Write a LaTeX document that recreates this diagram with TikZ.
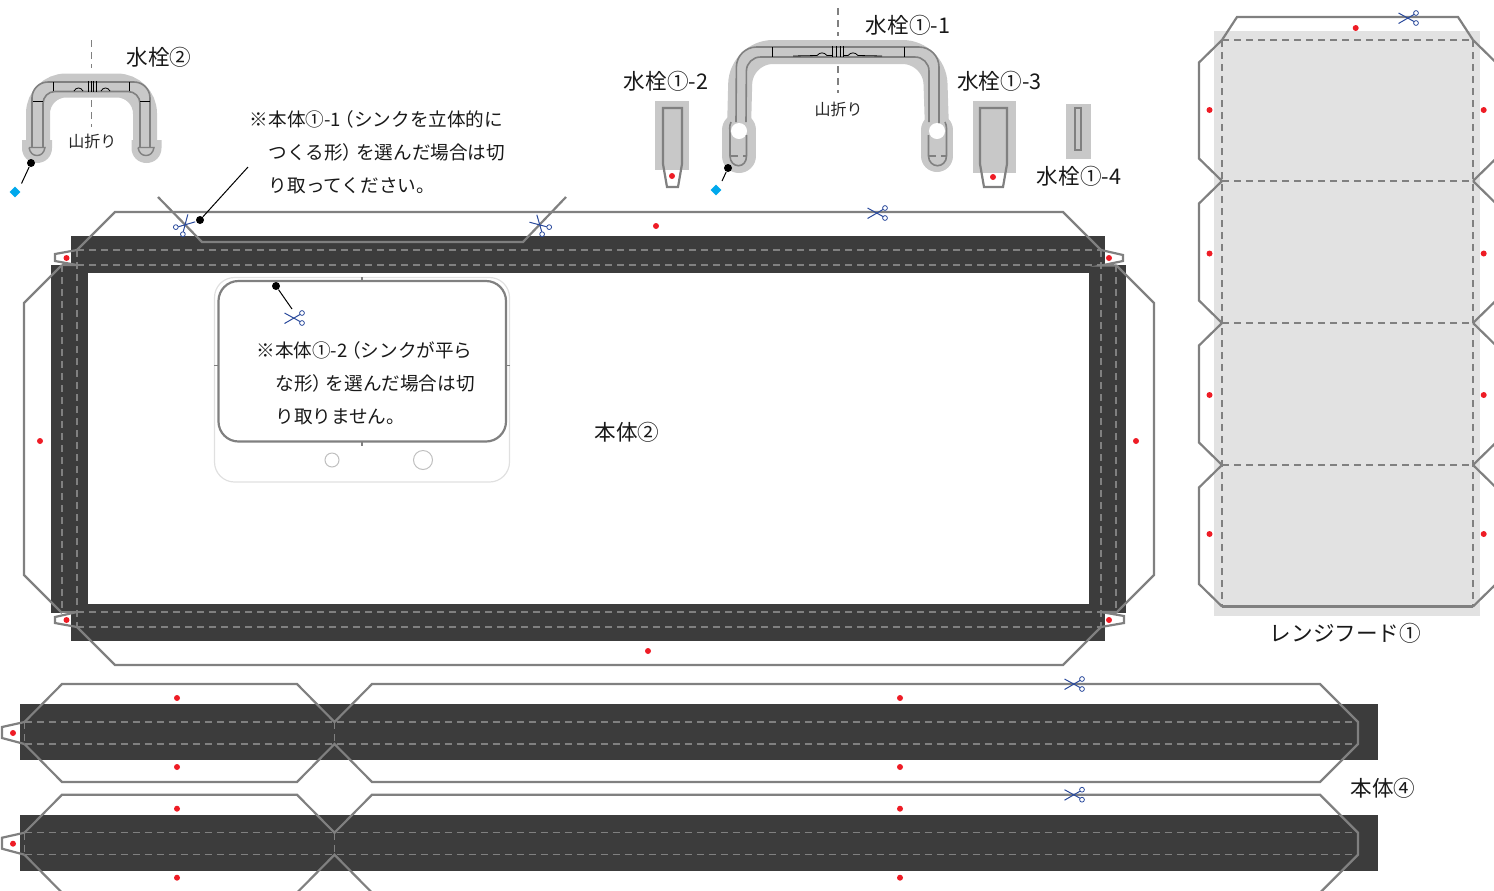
\documentclass[tikz,border=0pt]{standalone}
\usepackage{fontspec}
\setmainfont{Noto Sans CJK JP}
\newfontfamily\HaltFont{Noto Sans CJK JP}[RawFeature={+halt}]
\newcommand{\OpenMark}{\hspace{2pt}{\HaltFont （}}
\newcommand{\CloseMark}{{\HaltFont ）}\hspace{2pt}}
\usetikzlibrary{shapes.geometric}
\definecolor{BandDark}{HTML}{3C3C3C}
\definecolor{CutGray}{HTML}{808080}
\definecolor{FoldGray}{HTML}{808080}
\definecolor{HaloGray}{HTML}{C8C8C8}
\definecolor{PanelGray}{HTML}{E2E2E2}
\definecolor{MarkRed}{HTML}{EE1C25}
\definecolor{MarkCyan}{HTML}{00A8EC}
\definecolor{ScissorBlue}{HTML}{2A4A9C}
\tikzset{
    Band/.style={fill=BandDark, draw=none},
    Panel/.style={fill=HaloGray, draw=none},
    CutLine/.style={draw=CutGray, line width=1.1pt, line join=miter},
    FoldLine/.style={draw=FoldGray, line width=0.55pt, dash pattern=on 3.5pt off 2.5pt},
    FineLine/.style={draw=black, line width=0.4pt},
    Halo/.style={draw=HaloGray, line width=12pt},
    Leader/.style={draw=black, line width=0.5pt},
    PinDot/.style={circle, fill=black, inner sep=0pt, minimum size=4pt},
    PinMark/.style={diamond, fill=MarkCyan, inner sep=0pt, minimum size=5.5pt},
    PartLabel/.style={font={\fontsize{10.8pt}{12pt}\selectfont}, inner sep=0pt, text=black!90},
    FoldLabel/.style={font={\fontsize{8pt}{10pt}\selectfont}, inner sep=0pt, text=black!85},
    NoteText/.style={font={\fontsize{9.3pt}{16.5pt}\selectfont}, inner sep=0pt, align=left, anchor=north west, text=black!90},
    scissors/.pic={
        \draw[ScissorBlue, line width=0.5pt] (-9.5,-5) -- (6,3.5) (-9.5,5.5) -- (6,-3.5);
        \draw[ScissorBlue, line width=0.4pt] (8,-5) circle (2.4) (8,5) circle (2.4);
    }
}
\begin{document}
\begin{tikzpicture}[x=0.5pt, y=-0.5pt]
\clip (0,0) rectangle (1494,890);

\fill[PanelGray] (1214,31) rectangle (1480,616);
\draw[CutLine] (1222,40) -- (1237,17) -- (1458,17) -- (1473,40);
\foreach \Top/\Bottom in {40/181, 181/323, 323/465, 465/606.5} {
    \draw[CutLine] (1222,\Top) -- (1199,\Top+22.5) -- (1199,\Bottom-22.5) -- (1222,\Bottom);
    \draw[CutLine] (1473,\Top) -- (1496,\Top+22.5) -- (1496,\Bottom-22.5) -- (1473,\Bottom);
}
\draw[CutLine] (1222,606.5) -- (1473,606.5);
\draw[FoldLine] (1222,40) -- (1222,606) (1473,40) -- (1473,606);
\foreach \Level in {40,181,323,465} {
    \draw[FoldLine] (1222,\Level) -- (1473,\Level);
}

\fill[Band] (71,236) rectangle (1105,273);
\fill[Band] (71,604) rectangle (1105,641);
\fill[Band] (51,265) rectangle (88,613);
\fill[Band] (1089,265) rectangle (1126,613);
\draw[FoldLine] (77,250) -- (1101,250) (77,265) -- (1101,265);
\draw[FoldLine] (77,612) -- (1101,612) (77,627) -- (1101,627);
\draw[FoldLine] (62,265) -- (62,612) (77,250) -- (77,627);
\draw[FoldLine] (1101,250) -- (1101,627) (1116,265) -- (1116,612);
\draw[CutLine] (77,250) -- (115,212) -- (1063,212) -- (1101,250);
\draw[CutLine] (158,197) -- (202,242) -- (523,242) -- (566,197);
\draw[CutLine] (62,265) -- (24,303) -- (24,575) -- (62,613);
\draw[CutLine] (1116,265) -- (1154,303) -- (1154,575) -- (1116,613);
\draw[CutLine] (77,627) -- (115,665) -- (1063,665) -- (1101,627);
\draw[CutLine] (77,250) -- (55,254) -- (55,261) -- (77,265) -- (62,265);
\draw[CutLine] (77,612) -- (55,617) -- (55,623) -- (77,627);
\draw[CutLine] (62,612) -- (77,612);
\draw[CutLine] (1101,250) -- (1123,255) -- (1123,261) -- (1101,265.5) -- (1116,265.5);
\draw[CutLine] (1116,612) -- (1101,612) -- (1124,616) -- (1124,623) -- (1101,627);

\foreach \Shift in {0,110.7} {
\begin{scope}[shift={(0,\Shift)}]
\fill[Band] (20,704) rectangle (1378,760);
\draw[FoldLine] (24.5,722) -- (1358,722) (24.5,744) -- (1358,744);
\draw[FoldLine] (24.5,722) -- (24.5,744) (334.5,722) -- (334.5,744);
\draw[CutLine] (24.5,722) -- (2,727) -- (2,738) -- (24.5,744);
\draw[CutLine] (24.5,722) -- (62,684) -- (297,684) -- (334.5,722) -- (372,684) -- (1320,684) -- (1358,722)
    -- (1358,744) -- (1320,782) -- (372,782) -- (334.5,744) -- (297,782) -- (62,782) -- (24.5,744);
\foreach \Pos in {(177,698),(177,767),(13,733),(900,698),(900,767)} {
    \fill[MarkRed] \Pos circle (3);
}
\end{scope}
}

\draw[draw=black!12, line width=0.6pt, rounded corners=10pt] (214.5,277.5) rectangle (509.5,482);
\draw[CutLine, rounded corners=10pt] (218.5,281) rectangle (506,441.5);
\draw[CutGray, line width=0.6pt] (362,277) -- (362,281) (362,442) -- (362,446) (214,365.5) -- (218,365.5) (506,365.5) -- (510,365.5);
\draw[draw=black!25, line width=0.5pt] (332,460) circle (7);
\draw[draw=black!25, line width=0.5pt] (423,460) circle (9.5);

\draw[Halo, rounded corners=14pt] (38,145) -- (38,85.5) -- (145,85.5) -- (145,145);
\foreach \Foot in {37,146.5} {
    \fill[HaloGray] (\Foot-15,140) -- (\Foot+15,140) -- (\Foot+15,148) .. controls (\Foot+15,157) and (\Foot+8,163) .. (\Foot,163)
        .. controls (\Foot-8,163) and (\Foot-15,157) .. (\Foot-15,148) -- cycle;
}
\draw[CutGray, line width=0.8pt, rounded corners=8pt] (32,147) -- (32,82) -- (150,82) -- (150,147);
\draw[CutGray, line width=0.8pt, rounded corners=6pt] (43,147) -- (43,91.5) -- (140,91.5) -- (140,147);
\foreach \Foot in {37,146} {
    \draw[CutGray, line width=0.7pt] (\Foot-8,147.5) -- (\Foot+8,147.5) .. controls (\Foot+7,153) and (\Foot+4,155.5) .. (\Foot,155.5)
        .. controls (\Foot-4,155.5) and (\Foot-7,153) .. (\Foot-8,147.5);
}
\draw[FineLine] (53,82) -- (53,91) (129,82) -- (129,91) (33,101) -- (43,101) (140,101) -- (150,101);
\draw[FineLine] (88,81) -- (88,92) (91,81) -- (91,92) (93,81) -- (93,92) (96,81) -- (96,92);
\draw[FineLine] (74,91) .. controls (76,87) and (81,87) .. (83,91) (101,91) .. controls (103,87) and (108,87) .. (110,91);
\draw[FoldLine] (91.7,40) -- (91.7,68) (91.7,100) -- (91.7,127);

\draw[FoldLine] (838,8) -- (838,36) (838,66) -- (838,93);
\draw[Halo, rounded corners=16pt] (739,130) -- (741,52) -- (934.5,52) -- (937,130);
\draw[HaloGray, line width=17pt, line cap=round] (739,130) -- (739,156);
\draw[HaloGray, line width=16pt, line cap=round] (937,130) -- (937,156);
\fill[white] (739,131) circle (8);
\fill[white] (937,131) circle (8);
\draw[CutGray, line width=0.8pt, rounded corners=10pt] (736,122) -- (736.5,47) -- (939,47) -- (939,123);
\draw[CutGray, line width=0.8pt, rounded corners=7pt] (746,122) -- (746.5,57) -- (929,57) -- (929,122);
\draw[CutGray, line width=0.8pt] (731,122) .. controls (729,126) and (730,130) .. (730,134) -- (730,156) .. controls (730,162) and (734,165.7) .. (738.5,165.7)
    .. controls (743,165.7) and (746.5,162) .. (746.5,156) -- (746.5,135);
\draw[CutGray, line width=0.8pt] (928.5,135) -- (928.5,156) .. controls (928.5,162) and (933,165.7) .. (937.5,165.7)
    .. controls (942,165.7) and (946.5,162) .. (946.5,156) -- (946.5,134) .. controls (946.5,130) and (947,126) .. (945,122);
\draw[FoldLine] (731,156) -- (746,156) (929,156) -- (946,156);
\draw[FineLine] (772,47) -- (772,57) (904,47) -- (904,57);
\draw[FineLine] (832,46) -- (832,57) (836,46) -- (836,57) (840,46) -- (840,57) (843,46) -- (843,57);
\draw[FineLine] (793,56) -- (817,55.5) .. controls (820,52) and (824,52) .. (827,55.5) -- (832,55.5);
\draw[FineLine] (843,55.5) -- (848,55.5) .. controls (851,52) and (855,52) .. (858,55.5) -- (882,56);

\fill[Panel] (655,101) rectangle (689,170);
\draw[CutLine] (663,164) -- (663,108) -- (682,108) -- (682,164) -- (678,187) -- (667,187) -- cycle;
\fill[Panel] (973,101) rectangle (1016,173);
\draw[CutLine] (980,164) -- (980,108) -- (1007,108) -- (1007,164) -- (1003,187) -- (984,187) -- cycle;
\fill[Panel] (1066,104) rectangle (1091,159);
\draw[CutLine] (1075,108) rectangle (1081,150);

\foreach \Pos in {(66.5,258),(1109,258),(66.5,620),(1109,620),(656,226),(40,441),(1136,441),(648,651),
    (672,176),(993,177),(1355.7,28),(1209.5,110),(1209.5,253.5),(1209.5,395),(1209.5,534),
    (1483.7,110),(1483.7,253.5),(1483.7,395),(1483.7,534)} {
    \fill[MarkRed] \Pos circle (3);
}

\foreach \Pos/\Turn in {(1074,684)/0, (1074,794.7)/0, (877,213)/0, (1408,18)/0, (294,318)/0, (185,225)/-135, (540,225)/-45} {
    \pic[rotate=\Turn] at \Pos {scissors};
}

\node[PinDot] (PinTwo) at (31,163) {};
\node[PinMark] (MarkTwo) at (15,192) {};
\coordinate (EndTwo) at (21.5,183.5);
\draw[Leader] (PinTwo) -- (EndTwo);
\node[PinDot] (PinOne) at (728,168) {};
\node[PinMark] (MarkOne) at (716,190) {};
\coordinate (EndOne) at (722,181);
\draw[Leader] (PinOne) -- (EndOne);
\node[PinDot] (PinSink) at (200,220) {};
\coordinate (EndSink) at (248,167);
\draw[Leader] (PinSink) -- (EndSink);
\node[PinDot] (PinFlat) at (276,286) {};
\coordinate (EndFlat) at (292,309);
\draw[Leader] (PinFlat) -- (EndFlat);

\node[PartLabel] (TapTwo) at (159,57) {水栓②};
\node[PartLabel] (TapOneA) at (908,25) {水栓①-1};
\node[PartLabel] (TapOneB) at (666,81) {水栓①-2};
\node[PartLabel] (TapOneC) at (999.5,81) {水栓①-3};
\node[PartLabel] (TapOneD) at (1079,176) {水栓①-4};
\node[PartLabel] (BodyTwo) at (627,432) {本体②};
\node[PartLabel] (BodyFour) at (1383,788) {本体④};
\node[PartLabel] (HoodOne) at (1345.5,633) {レンジフード①};
\node[FoldLabel] (FoldTwo) at (92.5,141) {山折り};
\node[FoldLabel] (FoldOne) at (838.5,109) {山折り};
\node[NoteText] (NoteSink) at (249.5,110.5) {※本体①-1\OpenMark シンクを立体的に\\\hspace*{9.5pt}つくる形\CloseMark を選んだ場合は切\\\hspace*{9.5pt}り取ってください。};
\node[NoteText] (NoteFlat) at (256,341.5) {※本体①-2\OpenMark シンクが平ら\\\hspace*{9.5pt}な形\CloseMark を選んだ場合は切\\\hspace*{9.5pt}り取りません。};
\end{tikzpicture}
\end{document}
